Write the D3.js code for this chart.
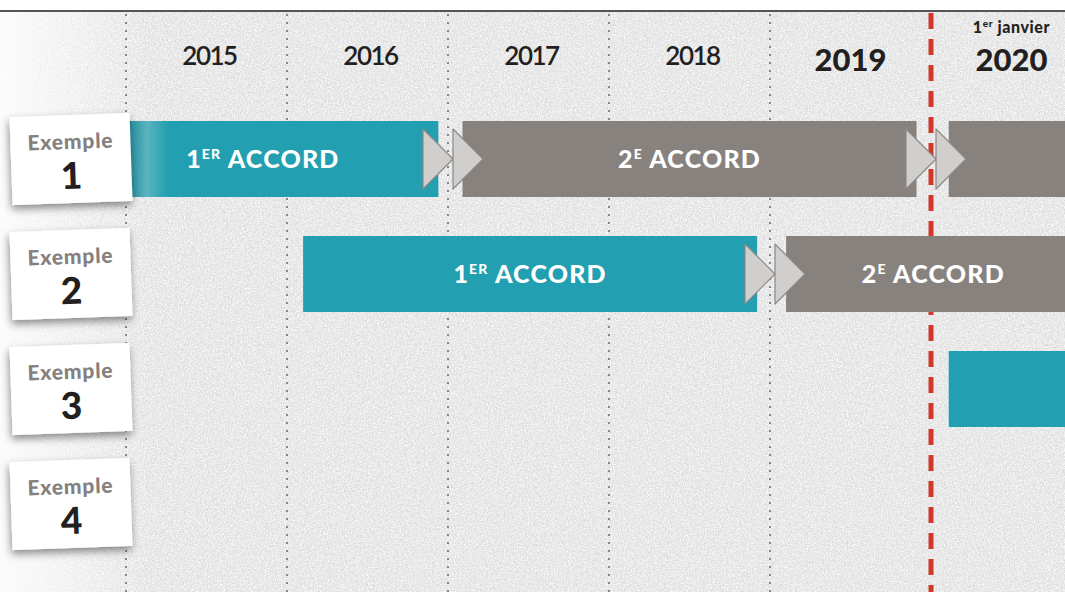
<!DOCTYPE html>
<html>
<head>
<meta charset="utf-8">
<script src="https://cdn.jsdelivr.net/npm/d3@7"></script>
<style>
  html, body { margin: 0; padding: 0; background: #fff; }
  svg { display: block; }
</style>
</head>
<body>
<div id="chart"></div>
<script>
// ---- data ------------------------------------------------------------
const examples = ['1', '2', '3', '4'];
const years = [2015, 2016, 2017, 2018, 2019, 2020];
const boldYears = [2019, 2020];
const gridYears = [2015, 2016, 2017, 2018, 2019];
const deadlineYear = 2020;

// one entry per bar
const barRows   = ['1', '1', '1', '2', '2', '3'];
const barStarts = [2014.76, 2017.09, 2020.11, 2016.10, 2019.10, 2020.11];
const barEnds   = [2016.94, 2019.91, 2021.00, 2018.92, 2020.93, 2021.00];
const barRanks  = [1, 2, 3, 1, 2, 1];
const barNums   = ['1', '2', '', '1', '2', ''];
const barSups   = ['ER', 'E', '', 'ER', 'E', ''];

// renewal arrows (row, year boundary)
const arrowRows  = ['1', '2', '1'];
const arrowYears = [2017, 2019, 2020];

// ---- layout / style --------------------------------------------------
const W = 1065, H = 592;
const TEAL = '#229fb0', GREY = '#88827f';
const FONT = 'Lato, "Open Sans", sans-serif';

const svg = d3.select('#chart').append('svg')
  .attr('width', W).attr('height', H)
  .attr('viewBox', `0 0 ${W} ${H}`);

const defs = svg.append('defs');

// concrete-like texture
const tex = defs.append('filter').attr('id', 'tex')
  .attr('x', 0).attr('y', 0).attr('width', '100%').attr('height', '100%');
tex.append('feTurbulence').attr('type', 'fractalNoise')
  .attr('baseFrequency', 0.7).attr('numOctaves', 3).attr('seed', 4);
tex.append('feColorMatrix').attr('type', 'matrix')
  .attr('values', '0 0 0 0 1  0 0 0 0 1  0 0 0 0 1  3.4 0 0 0 -1.4');

const tex2 = defs.append('filter').attr('id', 'tex2')
  .attr('x', 0).attr('y', 0).attr('width', '100%').attr('height', '100%');
tex2.append('feTurbulence').attr('type', 'fractalNoise')
  .attr('baseFrequency', 0.45).attr('numOctaves', 3).attr('seed', 9);
tex2.append('feColorMatrix').attr('type', 'matrix')
  .attr('values', '0 0 0 0 0.55  0 0 0 0 0.55  0 0 0 0 0.55  3 0 0 0 -1.7');

const glow = defs.append('linearGradient').attr('id', 'glow')
  .attr('x1', 0).attr('x2', 1).attr('y1', 0).attr('y2', 0);
glow.append('stop').attr('offset', '0%').attr('stop-color', '#fff').attr('stop-opacity', 0.85);
glow.append('stop').attr('offset', '100%').attr('stop-color', '#fff').attr('stop-opacity', 0);

const shadow = defs.append('filter').attr('id', 'shadow')
  .attr('x', '-30%').attr('y', '-30%').attr('width', '160%').attr('height', '170%');
shadow.append('feDropShadow').attr('dx', -1).attr('dy', 4)
  .attr('stdDeviation', 4).attr('flood-color', '#000').attr('flood-opacity', 0.45);

// ---- scales ----------------------------------------------------------
const x = d3.scaleLinear().domain([2015, 2020]).range([126, 931]);
const y = d3.scaleBand().domain(examples).range([121, 542])
  .paddingInner(0.339).paddingOuter(0);
const color = d3.scaleOrdinal().domain([1, 2, 3]).range([TEAL, GREY, GREY]);

// fade at left of bars that start before the first year
const fade = defs.append('linearGradient').attr('id', 'fade')
  .attr('gradientUnits', 'userSpaceOnUse')
  .attr('x1', x(2015)).attr('x2', x(2015) + 42).attr('y1', 0).attr('y2', 0);
[[0, '#2a8f9e'], [0.25, '#3a9eac'], [0.5, '#5ab4c0'], [1, TEAL]].forEach(([o, c]) =>
  fade.append('stop').attr('offset', o).attr('stop-color', c));

// ---- background ------------------------------------------------------
svg.append('rect').attr('width', W).attr('height', H).attr('fill', '#fff');
svg.append('rect').attr('y', 11).attr('width', W).attr('height', H - 11).attr('fill', '#e3e3e3');
svg.append('rect').attr('y', 11).attr('width', W).attr('height', H - 11).attr('filter', 'url(#tex)').attr('opacity', 0.75);
svg.append('rect').attr('y', 11).attr('width', W).attr('height', H - 11).attr('filter', 'url(#tex2)').attr('opacity', 0.5);
svg.append('rect').attr('y', 11).attr('width', 150).attr('height', H - 11).attr('fill', 'url(#glow)');
svg.append('line').attr('x1', 0).attr('x2', W).attr('y1', 11).attr('y2', 11)
  .attr('stroke', '#555').attr('stroke-width', 2);

// ---- gridlines -------------------------------------------------------
svg.append('g').selectAll('line').data(gridYears).join('line')
  .attr('x1', d => x(d)).attr('x2', d => x(d))
  .attr('y1', 14).attr('y2', H)
  .attr('stroke', '#878787').attr('stroke-width', 2)
  .attr('stroke-dasharray', '2 6');

// ---- year labels -----------------------------------------------------
const yearG = svg.append('g').attr('font-family', FONT).attr('fill', '#231f20')
  .attr('text-anchor', 'middle');
yearG.selectAll('text').data(years).join('text')
  .attr('x', d => x(d + 0.5) + (boldYears.includes(d) ? 0 : 3))
  .attr('y', d => boldYears.includes(d) ? 71 : 65)
  .attr('font-size', d => boldYears.includes(d) ? 31 : 26)
  .attr('font-weight', d => boldYears.includes(d) ? 900 : 600)
  .attr('letter-spacing', d => boldYears.includes(d) ? 0 : -1.5)
  .text(d => d);

const jan = yearG.append('text')
  .attr('x', x(deadlineYear + 0.5)).attr('y', 33)
  .attr('font-size', 16).attr('font-weight', 900).attr('letter-spacing', 0.6);
jan.append('tspan').text('1');
jan.append('tspan').attr('font-size', 10).attr('dy', -6).text('er');
jan.append('tspan').attr('dy', 6).text('\u00a0janvier');

// ---- deadline --------------------------------------------------------
svg.append('line')
  .attr('x1', x(deadlineYear)).attr('x2', x(deadlineYear))
  .attr('y1', 13).attr('y2', H)
  .attr('stroke', '#d2372a').attr('stroke-width', 5)
  .attr('stroke-dasharray', '16 10');

// ---- bars ------------------------------------------------------------
const bars = barRows.map((r, i) => ({
  row: r, start: barStarts[i], end: barEnds[i], rank: barRanks[i],
  num: barNums[i], sup: barSups[i]
}));

const barG = svg.append('g');
barG.selectAll('rect').data(bars).join('rect')
  .attr('x', d => x(d.start))
  .attr('y', d => y(d.row))
  .attr('width', d => x(d.end) - x(d.start))
  .attr('height', y.bandwidth())
  .attr('fill', d => d.start < 2015 ? 'url(#fade)' : color(d.rank));

const labelG = svg.append('g').attr('font-family', FONT).attr('fill', '#fff')
  .attr('font-weight', 900).attr('text-anchor', 'middle');
const lab = labelG.selectAll('text').data(bars.filter(d => d.num)).join('text')
  .attr('x', d => x((d.start + d.end) / 2))
  .attr('y', d => y(d.row) + y.bandwidth() / 2 + 9)
  .attr('font-size', 25).attr('letter-spacing', 1.2);
lab.append('tspan').text(d => d.num);
lab.append('tspan').attr('font-size', 14).attr('dy', -9).text(d => d.sup);
lab.append('tspan').attr('dy', 9).text('\u00a0ACCORD');

// ---- renewal arrows --------------------------------------------------
const arrows = arrowRows.map((r, i) => ({ row: r, year: arrowYears[i] }));
const tri = (x0, cy) => `M${x0},${cy - 30}L${x0 + 30},${cy}L${x0},${cy + 30}Z`;
const arrowG = svg.append('g');
arrows.forEach(a => {
  const cx = x(a.year) + 5;
  const cy = y(a.row) + y.bandwidth() / 2;
  [cx - 30, cx].forEach(x0 => arrowG.append('path')
    .attr('d', tri(x0, cy))
    .attr('fill', '#d1cfcd').attr('stroke', '#8c8886').attr('stroke-width', 1.2)
    .attr('stroke-linejoin', 'round'));
});

// ---- example cards ---------------------------------------------------
const cards = svg.append('g').selectAll('g').data(examples).join('g')
  .attr('transform', d => `translate(71,${y(d) + y.bandwidth() / 2}) rotate(-2)`);
cards.append('rect')
  .attr('x', -60).attr('y', -44).attr('width', 120).attr('height', 88)
  .attr('fill', '#fff').attr('filter', 'url(#shadow)');
cards.append('text')
  .attr('text-anchor', 'middle').attr('y', -10)
  .attr('font-family', FONT).attr('font-weight', 900).attr('font-size', 21)
  .attr('letter-spacing', 0.8)
  .attr('fill', '#858080').text('Exemple');
cards.append('text')
  .attr('text-anchor', 'middle').attr('y', 30)
  .attr('font-family', FONT).attr('font-weight', 900).attr('font-size', 37)
  .attr('fill', '#231f20').text(d => d);
</script>
</body>
</html>
